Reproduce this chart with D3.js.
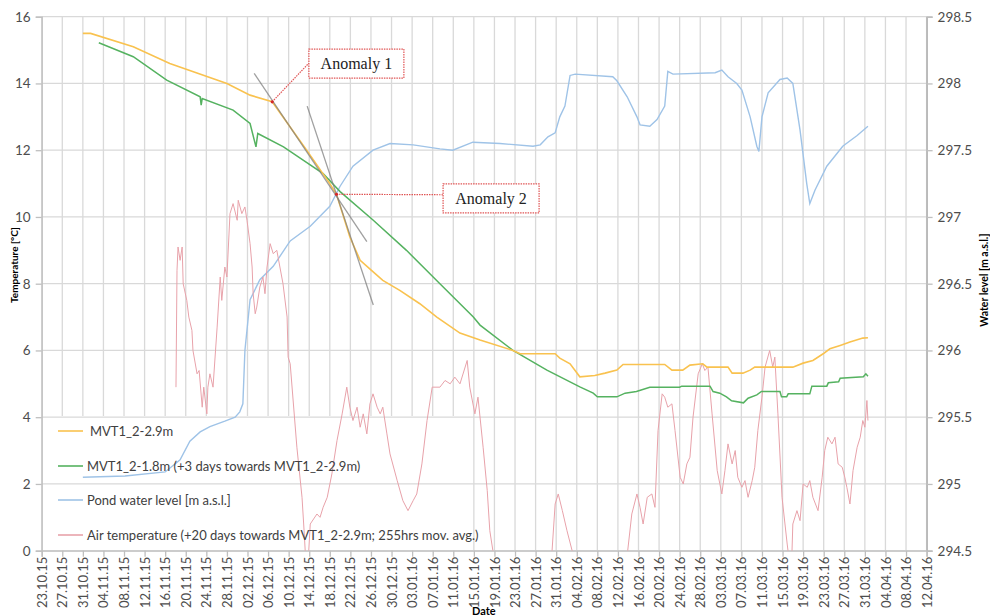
<!DOCTYPE html>
<meta charset="utf-8">
<head>
  <style>
    body { margin:0; background:#fff; }
    text { font-family: Lato, "Open Sans", sans-serif; }
  </style>
  <script src="https://cdnjs.cloudflare.com/ajax/libs/d3/7.8.5/d3.min.js"></script>
</head>
<body>
<svg width="990" height="616"></svg>
<script>
  // time is given in days since 23.10.2015
  var mvt29 = [
    [8.0,15.5],[9.5,15.5],[17.8,15.1],[24.9,14.6],[36.0,14.0],[40.5,13.65],[44.8,13.45],
    [51.5,12.0],[56.0,11.0],[57.3,10.68],[59.9,9.4],[61.9,8.7],[64.1,8.4],[66.3,8.1],
    [69.6,7.8],[73.5,7.4],[76.8,7.0],[81.3,6.52],[85.2,6.31],[91.6,6.0],[93.0,5.9],
    [99.8,5.9],[100.7,5.77],[102.7,5.6],[104.6,5.21],[107.5,5.25],[109.5,5.32],[111.8,5.41],
    [113.0,5.58],[121.1,5.58],[122.5,5.41],[124.6,5.41],[126.0,5.56],[128.5,5.6],[129.3,5.5],
    [133.4,5.5],[134.2,5.32],[136.3,5.32],[137.7,5.41],[138.6,5.5],[146.0,5.5],[148.0,5.62],
    [149.9,5.7],[151.9,5.9],[153.2,6.05],[155.2,6.15],[157.1,6.25],[159.6,6.37],[160.6,6.38]
  ]

  var mvt18 = [
    [11.1,15.22],[17.8,14.8],[24.3,14.1],[30.8,13.6],[31.0,13.35],[31.2,13.55],[37.2,13.2],
    [40.5,12.8],[41.65,12.1],[42.0,12.5],[47.0,12.1],[54.7,11.3],[58.0,10.76],[64.45,9.9],
    [70.9,9.0],[77.4,8.0],[83.9,7.0],[85.2,6.76],[91.6,6.0],[98.2,5.41],[104.6,4.91],
    [107.2,4.72],[108.0,4.61],[111.8,4.61],[113.4,4.72],[115.6,4.77],[118.2,4.9],[124.0,4.9],
    [124.4,4.93],[129.9,4.93],[130.5,4.77],[131.8,4.72],[133.1,4.61],[134.1,4.49],[136.4,4.43],
    [137.3,4.57],[139.0,4.67],[139.9,4.77],[143.5,4.77],[143.8,4.61],[144.8,4.61],[145.1,4.7],
    [149.3,4.7],[149.7,4.93],[152.6,4.93],[152.9,5.03],[154.9,5.06],[155.2,5.17],[159.7,5.21],
    [160.2,5.3],[160.6,5.23]
  ]

  var pond = [
    [8.0,295.05],[16.2,295.06],[24.0,295.09],[26.9,295.18],[28.8,295.32],[30.8,295.39],
    [32.7,295.43],[35.6,295.47],[37.6,295.5],[38.5,295.54],[39.1,295.6],[39.5,296.0],
    [40.5,296.38],[42.4,296.53],[45.0,296.63],[48.3,296.82],[52.2,296.93],[56.0,297.08],
    [58.0,297.23],[60.5,297.38],[64.4,297.5],[67.7,297.55],[72.2,297.54],[77.4,297.51],
    [79.9,297.5],[83.8,297.56],[89.1,297.55],[95.5,297.53],[96.9,297.54],[98.4,297.6],
    [99.8,297.63],[100.7,297.75],[101.7,297.83],[102.7,298.06],[103.7,298.07],[111.0,298.05],
    [111.8,298.02],[113.8,297.9],[115.7,297.75],[116.3,297.69],[118.2,297.68],[119.6,297.73],
    [121.1,297.83],[121.7,298.09],[122.7,298.07],[130.9,298.08],[132.2,298.1],[133.4,298.05],
    [135.1,298.0],[136.1,297.95],[137.7,297.75],[139.0,297.53],[139.4,297.49],[140.0,297.75],
    [141.2,297.93],[143.5,298.03],[144.9,298.04],[146.0,298.0],[147.4,297.65],[148.7,297.25],
    [149.3,297.1],[150.3,297.2],[152.6,297.38],[155.7,297.53],[158.5,297.61],[160.6,297.68]
  ]

  var airTemp = [
    [26.1,4.9],[26.3,8.4],[26.5,9.1],[26.9,8.7],[27.3,9.1],[27.5,8.0],[28.2,7.5],[28.6,7.0],
    [29.2,6.6],[29.4,6.0],[30.2,5.3],[30.6,5.4],[31.2,4.3],[31.5,4.9],[32.1,4.1],[32.3,4.9],
    [32.7,5.3],[33.3,4.9],[34.1,6.7],[34.7,8.2],[35.0,7.5],[35.6,8.5],[36.0,8.2],[36.6,10.1],
    [37.2,10.4],[38.0,9.9],[38.2,10.5],[38.9,10.1],[39.5,10.3],[39.9,9.9],[40.5,9.2],[40.9,8.5],
    [41.1,7.7],[41.5,7.1],[41.8,7.3],[42.4,7.9],[43.0,8.2],[43.4,7.7],[43.8,8.5],[44.4,9.2],
    [45.0,8.9],[45.7,9.0],[46.3,8.5],[46.9,8.0],[47.7,7.0],[47.9,5.8],[48.3,5.6],[49.6,3.1],
    [50.6,1.6],[51.0,0.6],[51.4,-0.5],[51.8,-0.3],[52.2,0.8],[53.5,1.1],[54.1,1.0],[54.7,1.3],
    [55.5,1.6],[56.4,2.3],[57.4,3.3],[58.4,4.1],[59.3,4.9],[59.9,4.3],[60.5,3.9],[61.3,4.3],
    [61.9,3.7],[62.5,4.1],[63.2,3.5],[63.8,4.4],[64.4,4.7],[65.2,4.3],[65.8,4.1],[66.3,4.3],
    [67.1,3.5],[67.7,2.9],[69.1,2.1],[70.2,1.5],[71.2,1.2],[72.2,1.5],[72.9,1.7],[73.9,2.6],
    [74.9,3.9],[75.9,4.9],[77.4,4.9],[78.4,5.1],[79.4,5.0],[80.3,5.2],[81.3,5.0],[82.7,5.7],
    [83.2,4.9],[84.2,4.1],[84.8,4.6],[85.8,3.1],[86.6,1.8],[87.1,0.6],[87.7,0.0],[89.1,-1.5],
    [93.0,-2.5],[97.8,-1.5],[99.2,0.0],[99.8,1.4],[100.4,1.7],[101.2,1.2],[102.1,0.6],[103.1,0.0],
    [104.6,-1.5],[108.5,-2.5],[112.4,-1.5],[113.9,0.0],[114.7,1.1],[115.7,1.7],[116.3,1.3],
    [116.9,0.8],[117.7,1.6],[118.6,1.7],[119.2,1.3],[119.8,3.6],[120.6,4.7],[121.1,4.6],
    [121.7,4.3],[122.5,4.4],[123.1,3.6],[124.1,2.2],[124.7,2.0],[125.4,2.6],[126.0,2.8],
    [126.6,4.0],[127.6,5.3],[128.4,5.6],[128.9,5.4],[129.5,5.5],[130.3,4.1],[131.3,2.4],
    [132.2,1.7],[132.8,2.4],[133.4,3.2],[134.2,2.6],[134.8,3.0],[135.3,2.2],[136.1,1.9],
    [136.7,2.1],[137.3,1.6],[138.1,2.1],[138.6,2.5],[139.2,3.6],[140.0,4.6],[140.6,5.5],
    [141.5,6.0],[142.1,5.5],[142.5,5.8],[143.1,4.1],[143.9,1.6],[144.9,0.2],[145.3,-0.3],
    [145.8,-0.2],[146.0,0.8],[146.8,1.2],[147.4,0.9],[148.0,2.0],[148.8,1.9],[149.3,2.1],
    [149.9,1.6],[150.9,1.2],[151.7,2.2],[152.2,3.0],[152.8,3.4],[153.6,3.2],[154.2,3.4],
    [154.8,2.6],[155.6,2.5],[156.1,2.2],[156.5,1.9],[157.1,1.4],[157.7,2.4],[158.5,3.1],
    [159.1,3.4],[159.6,3.9],[160.0,3.7],[160.4,4.5],[160.6,3.9]
  ]

  // grey tangents drawn over MVT1_2-2.9m
  var tangents = [
    [[41.3,14.3],[63.2,9.26]],
    [[51.6,13.32],[64.45,7.36]]
  ]

  var anomalies = [
    { label: "Anomaly 1", day: 44.8, value: 13.45 },
    { label: "Anomaly 2", day: 57.3, value: 10.68 }
  ]

  var legendLabels = [
    "MVT1_2-2.9m",
    "MVT1_2-1.8m (+3 days towards MVT1_2-2.9m)",
    "Pond water level [m a.s.l.]",
    "Air temperature (+20 days towards MVT1_2-2.9m; 255hrs mov. avg.)"
  ]

  var tempTicks = [0, 2, 4, 6, 8, 10, 12, 14, 16]
  var levelTicks = [294.5, 295, 295.5, 296, 296.5, 297, 297.5, 298, 298.5]

  var t0 = Date.UTC(2015, 9, 23)
  function day(d) { return new Date(t0 + d * 864e5) }
  var dateTicks = d3.range(0, 173, 4).map(day)

  var pL = 41.7, pR = 926.6, pT = 16.7, pB = 550.7

  var x = d3.scaleUtc().domain([day(0), day(172)]).range([pL, pR])
  var yT = d3.scaleLinear().domain([0, 16]).range([pB, pT])
  var yW = d3.scaleLinear().domain([294.5, 298.5]).range([pB, pT])

  var svg = d3.select('svg')

  svg.append('clipPath').attr('id', 'plot')
    .append('rect').attr('x', pL).attr('y', pT)
    .attr('width', pR - pL).attr('height', pB - pT)

  // vertical grid
  svg.append('g').selectAll('line').data(dateTicks).enter().append('line')
    .attr('x1', d => x(d)).attr('x2', d => x(d))
    .attr('y1', pT).attr('y2', pB)
    .attr('stroke', '#d9d9d9').attr('stroke-width', 1.3)

  // legend box hides the vertical grid
  var legendX = 42, legendY = 416
  svg.append('rect').attr('x', legendX).attr('y', legendY)
    .attr('width', 431).attr('height', pB - legendY)
    .attr('fill', '#fff')

  // horizontal grid
  svg.append('g').selectAll('line').data(tempTicks).enter().append('line')
    .attr('x1', pL).attr('x2', pR)
    .attr('y1', d => yT(d)).attr('y2', d => yT(d))
    .attr('stroke', '#d9d9d9').attr('stroke-width', 1.3)

  // axes
  var axL = svg.append('g').attr('transform', 'translate(' + pL + ',0)')
    .call(d3.axisLeft(yT).tickValues(tempTicks).tickSize(6).tickPadding(5))
  var axR = svg.append('g').attr('transform', 'translate(' + pR + ',0)')
    .call(d3.axisRight(yW).tickValues(levelTicks).tickSize(6).tickPadding(5).tickFormat(d3.format('')))
  var axB = svg.append('g').attr('transform', 'translate(0,' + pB + ')')
    .call(d3.axisBottom(x).tickValues(dateTicks).tickSize(6).tickFormat(d3.utcFormat('%d.%m.%y')))

  ;[axL, axR, axB].forEach(function (g) {
    g.select('.domain').attr('stroke', '#bfbfbf').attr('stroke-width', 1.3)
    g.selectAll('.tick line').attr('stroke', '#bfbfbf').attr('stroke-width', 1.3)
    g.selectAll('text').attr('fill', '#4d4d4d').style('font-size', '13.5px')
  })
  axR.select('.domain').attr('stroke', '#a6a6a6')
  axB.selectAll('text')
    .style('font-size', '13px')
    .attr('text-anchor', 'end')
    .attr('transform', 'rotate(-90)')
    .attr('x', -6).attr('y', 0).attr('dy', '0.35em')

  // axis titles
  svg.append('text').text('Temperature [°C]')
    .attr('transform', 'translate(18,265) rotate(-90)')
    .attr('text-anchor', 'middle').style('font-size', '10px').style('font-weight', 'bold')
  svg.append('text').text('Water level [m a.s.l.]')
    .attr('transform', 'translate(988,280) rotate(-90)')
    .attr('text-anchor', 'middle').style('font-size', '10.5px').style('font-weight', 'bold')
  svg.append('text').text('Date')
    .attr('x', 472).attr('y', 615)
    .style('font-size', '11px').style('font-weight', 'bold')

  var lineT = d3.line().x(d => x(day(d[0]))).y(d => yT(d[1]))
  var lineW = d3.line().x(d => x(day(d[0]))).y(d => yW(d[1]))

  var series = svg.append('g').attr('clip-path', 'url(#plot)')

  series.append('path').datum(pond).attr('d', lineW)
    .attr('fill', 'none').attr('stroke', '#9fc3e7').attr('stroke-width', 1.4)
  series.append('path').datum(airTemp).attr('d', lineT)
    .attr('fill', 'none').attr('stroke', '#e8a2aa').attr('stroke-width', 1)
  series.append('path').datum(mvt18).attr('d', lineT)
    .attr('fill', 'none').attr('stroke', '#55b260').attr('stroke-width', 1.5)
  series.append('path').datum(mvt29).attr('d', lineT)
    .attr('fill', 'none').attr('stroke', '#f9c24f').attr('stroke-width', 1.6)

  series.selectAll('.tangent').data(tangents).enter().append('path')
    .attr('class', 'tangent').attr('d', lineT)
    .attr('fill', 'none').attr('stroke', '#7f7f7f').attr('stroke-width', 1.3)
    .attr('stroke-opacity', 0.75)

  // anomaly callouts
  var boxes = [{ dx: 36.7, dy: -52.7, ly: -38.7, w: 95 }, { dx: 106.6, dy: -10.3, ly: 0.5, w: 96 }]
  anomalies.forEach(function (a, i) {
    var px = x(day(a.day)), py = yT(a.value), b = boxes[i]
    var g = svg.append('g')
    g.append('line').attr('x1', px).attr('y1', py)
      .attr('x2', px + b.dx).attr('y2', py + b.ly)
      .attr('stroke', '#e05555').attr('stroke-width', 1.2).attr('stroke-dasharray', '1.5,1')
    g.append('circle').attr('cx', px).attr('cy', py).attr('r', 1.6).attr('fill', '#d62728')
    g.append('rect').attr('x', px + b.dx).attr('y', py + b.dy)
      .attr('width', b.w).attr('height', 29)
      .attr('fill', '#fff').attr('stroke', '#e05555').attr('stroke-width', 1.2)
      .attr('stroke-dasharray', '1.5,1')
    g.append('text').text(a.label)
      .attr('x', px + b.dx + b.w / 2).attr('y', py + b.dy + 20)
      .attr('text-anchor', 'middle')
      .style('font-family', '"Liberation Serif", serif').style('font-size', '16px')
      .attr('fill', '#222')
  })

  // legend
  var legendColors = ['#f9c24f', '#55b260', '#9fc3e7', '#e8a2aa']
  var legendRows = [431, 466, 500, 535]
  var lg = svg.append('g').selectAll('g').data(legendLabels).enter().append('g')
    .attr('transform', (d, i) => 'translate(0,' + legendRows[i] + ')')
  lg.append('line').attr('x1', 58).attr('x2', 83)
    .attr('stroke', (d, i) => legendColors[i]).attr('stroke-width', 1.6)
  lg.append('text').text(d => d)
    .attr('x', (d, i) => i === 0 ? 90 : 87).attr('dy', '0.35em')
    .attr('fill', '#404040').style('font-size', '13px')
</script>
</body>
